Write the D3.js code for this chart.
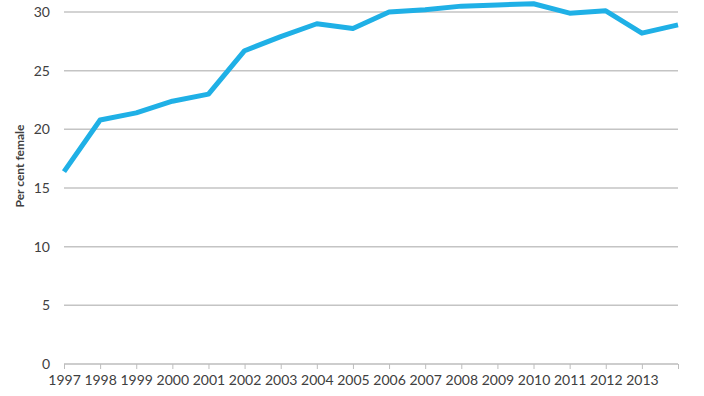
<html>
<head>
<script src="https://cdn.jsdelivr.net/npm/d3@7"></script>
<style>
  body { margin: 0; background: #fff; }
  text { font-family: Lato, "Open Sans", sans-serif; fill: #404040; }
</style>
</head>
<body>
<svg id="vis"></svg>
<script>
// data
const years = [1997, 1998, 1999, 2000, 2001, 2002, 2003, 2004, 2005,
               2006, 2007, 2008, 2009, 2010, 2011, 2012, 2013, 2014];
const perCentFemale = [16.4, 20.8, 21.4, 22.4, 23.0, 26.7, 27.9, 29.0, 28.6,
                       30.0, 30.2, 30.5, 30.6, 30.7, 29.9, 30.1, 28.2, 28.9];
const yTicks = [0, 5, 10, 15, 20, 25, 30];
const yLabel = 'Per cent female';

const width = 704, height = 396;
const plotLeft = 64, plotRight = 678, plotTop = 12, plotBottom = 364;

let svg = d3.select('#vis').attr('width', width).attr('height', height);

let x = d3.scalePoint().domain(years).range([plotLeft, plotRight]);
let y = d3.scaleLinear().domain([0, 30]).range([plotBottom, plotTop]);

// gridlines
svg.append('g')
  .selectAll('line')
  .data(yTicks.filter(d => d > 0))
  .enter().append('line')
  .attr('x1', plotLeft).attr('x2', plotRight)
  .attr('y1', d => y(d)).attr('y2', d => y(d))
  .attr('stroke', '#c4c4c4')
  .attr('stroke-width', 1.5);

// y axis labels
let yAxis = d3.axisLeft(y).tickValues(yTicks).tickSize(0).tickPadding(14);
svg.append('g')
  .attr('transform', `translate(${plotLeft},0)`)
  .call(yAxis)
  .call(g => g.select('.domain').remove())
  .call(g => g.selectAll('text').style('font-size', '14px').attr('fill', '#404040'));

// x axis
let xAxis = d3.axisBottom(x)
  .tickSize(5)
  .tickPadding(6)
  .tickFormat(d => d === 2014 ? '' : d);
svg.append('g')
  .attr('transform', `translate(0,${plotBottom})`)
  .call(xAxis)
  .call(g => g.select('.domain').attr('stroke', '#bdbdbd').attr('stroke-width', 1.5).attr('d', `M${plotLeft},0H${plotRight}`))
  .call(g => g.selectAll('.tick line').attr('stroke', '#bdbdbd'))
  .call(g => g.selectAll('text').style('font-size', '14px').attr('fill', '#404040'));

// y axis title
svg.append('text')
  .attr('transform', `translate(24,${(plotTop + plotBottom) / 2 - 22}) rotate(-90)`)
  .attr('text-anchor', 'middle')
  .style('font-size', '12px')
  .style('font-weight', 'bold')
  .text(yLabel);

// the line
let line = d3.line()
  .x((d, i) => x(years[i]))
  .y(d => y(d));

svg.append('path')
  .datum(perCentFemale)
  .attr('d', line)
  .attr('fill', 'none')
  .attr('stroke', '#1fb0e6')
  .attr('stroke-width', 5)
  .attr('stroke-linejoin', 'round');
</script>
</body>
</html>
